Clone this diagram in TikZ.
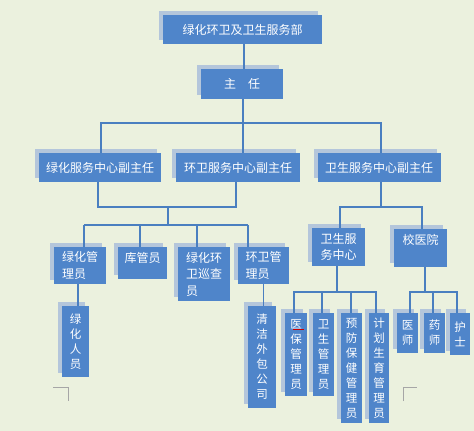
\documentclass[tikz,border=0pt]{standalone}
\usepackage{fontspec}
\setmainfont{Noto Sans CJK SC}
\usetikzlibrary{shadows}
\definecolor{bg}{HTML}{EBF1DE}
\definecolor{boxfill}{HTML}{4F85CA}
\definecolor{shadowc}{HTML}{B4C6DB}
\definecolor{linec}{HTML}{4A7FC0}
\definecolor{markc}{HTML}{A6A6A6}
\begin{document}
\begin{tikzpicture}[x=1pt,y=-1pt,
  box/.style={fill=boxfill, text=white, inner sep=2pt,
    font=\fontsize{12}{16.5}\selectfont, align=left,
    drop shadow={shadow xshift=-4pt, shadow yshift=4pt, fill=shadowc, opacity=1}},
  onebox/.style={fill=boxfill, text=white, inner sep=2pt,
    font=\fontsize{12}{16.5}\selectfont,
    drop shadow={shadow xshift=-4pt, shadow yshift=4pt, fill=shadowc, opacity=1}},
  vbox/.style={box, align=center, font=\fontsize{11.5}{15}\selectfont},
  conn/.style={draw=linec, line width=1.8pt},
  cornermark/.style={draw=markc, line width=0.8pt}]
\fill[bg] (0,0) rectangle (474,431);
\useasboundingbox (0,0) rectangle (474,431);

% level 0 and 1
\node[onebox, minimum width=159, minimum height=29] (top) at (242.5,29.5) {绿化环卫及卫生服务部};
\node[onebox, minimum width=82, minimum height=30] (zr) at (242,84) {主\hspace{1em}任};

% level 2
\node[onebox, minimum width=122, minimum height=29] (A) at (100,167.5) {绿化服务中心副主任};
\node[onebox, minimum width=124, minimum height=29] (B) at (238,167.5) {环卫服务中心副主任};
\node[onebox, minimum width=123, minimum height=29] (C) at (379,167.5) {卫生服务中心副主任};

% level 3
\node[box, minimum width=52, minimum height=37] (L1) at (80,265.5) {绿化管\\理员};
\node[onebox, minimum width=49, minimum height=32, text depth=11pt] (L2) at (142.5,263) {库管员};
\node[box, minimum width=52, minimum height=54] (L3) at (204,274) {绿化环\\卫巡查\\员};
\node[box, minimum width=51, minimum height=37] (L4) at (263.5,265.5) {环卫管\\理员};
\node[box, minimum width=53, minimum height=38] (R1) at (338.5,247) {卫生服\\务中心};
\node[onebox, minimum width=53, minimum height=38, text depth=17pt] (R2) at (420.5,248) {校医院};

% level 4
\node[vbox, minimum width=27, minimum height=71] (P1) at (75.5,341.5) {绿\\化\\人\\员};
\node[vbox, minimum width=28, minimum height=102] (P2) at (262,357) {清\\洁\\外\\包\\公\\司};
\node[vbox, minimum width=22, minimum height=83] (S1) at (296,354.5) {医\\保\\管\\理\\员};
\node[vbox, minimum width=21, minimum height=83] (S2) at (323.5,354.5) {卫\\生\\管\\理\\员};
\node[vbox, minimum width=21, minimum height=110] (S3) at (351.5,368) {预\\防\\保\\健\\管\\理\\员};
\node[vbox, minimum width=20, minimum height=110] (S4) at (379,368) {计\\划\\生\\育\\管\\理\\员};
\node[vbox, minimum width=21, minimum height=40] (T1) at (407.5,333) {医\\师};
\node[vbox, minimum width=21, minimum height=40] (T2) at (434.5,333) {药\\师};
\node[vbox, minimum width=20, minimum height=42] (T3) at (460,334) {护\\士};

% connector coordinates
\coordinate (c0) at (244,57);
\coordinate (c1) at (243,120);
\coordinate (b1l) at (101,123);
\coordinate (b1r) at (381,123);
\coordinate (b2l) at (98,207);
\coordinate (b2r) at (236,207);
\coordinate (b2m) at (168,207);
\coordinate (b3m) at (168,225);
\coordinate (d1) at (84,225);
\coordinate (d2) at (140,225);
\coordinate (d3) at (197,225);
\coordinate (d4) at (248,225);
\coordinate (r0) at (381,207);
\coordinate (r1) at (340,207);
\coordinate (r2) at (422,207);
\coordinate (sm) at (337,292);
\coordinate (s1) at (294,292);
\coordinate (s2) at (322,292);
\coordinate (s3) at (351,292);
\coordinate (s4) at (376,292);
\coordinate (tm) at (425,292);
\coordinate (t1) at (410,292);
\coordinate (t2) at (433,292);
\coordinate (t3) at (457,292);

% connectors
\draw[conn] (c0 |- top.south) -- (c0 |- zr.north);
\draw[conn] (c1 |- zr.south) -- (c1 |- B.north);
\draw[conn] (b1l |- A.north) -- (b1l) -- (b1r) -- (b1r |- C.north);
\draw[conn] (b2l |- A.south) -- (b2l) -- (b2r) -- (b2r |- B.south);
\draw[conn] (b2m) -- (b3m);
\draw[conn] (d1) -- (d4);
\draw[conn] (d1) -- (d1 |- L1.north);
\draw[conn] (d2) -- (d2 |- L2.north);
\draw[conn] (d3) -- (d3 |- L3.north);
\draw[conn] (d4) -- (d4 |- L4.north);
\draw[conn] ([xshift=-2pt]L1.south) -- ([xshift=-2pt]L1.south |- P1.north);
\draw[conn] (L4.south) -- (L4.south |- P2.north);
\draw[conn] (r0 |- C.south) -- (r0);
\draw[conn] (r1 |- R1.north) -- (r1) -- (r2) -- (r2 |- R2.north);
\draw[conn] (sm |- R1.south) -- (sm);
\draw[conn] (s1 |- S1.north) -- (s1) -- (s4) -- (s4 |- S4.north);
\draw[conn] (s2) -- (s2 |- S2.north);
\draw[conn] (s3) -- (s3 |- S3.north);
\draw[conn] (tm |- R2.south) -- (tm);
\draw[conn] (t1 |- T1.north) -- (t1) -- (t3) -- (t3 |- T3.north);
\draw[conn] (t2) -- (t2 |- T2.north);

% spell-check underline and corner marks
\draw[red!80!black, line width=0.7pt] (293,329) -- (304,329);
\draw[cornermark] (53,387) -- (68,387) -- (68,401);
\draw[cornermark] (403,401) -- (403,387) -- (417,387);
\end{tikzpicture}
\end{document}
